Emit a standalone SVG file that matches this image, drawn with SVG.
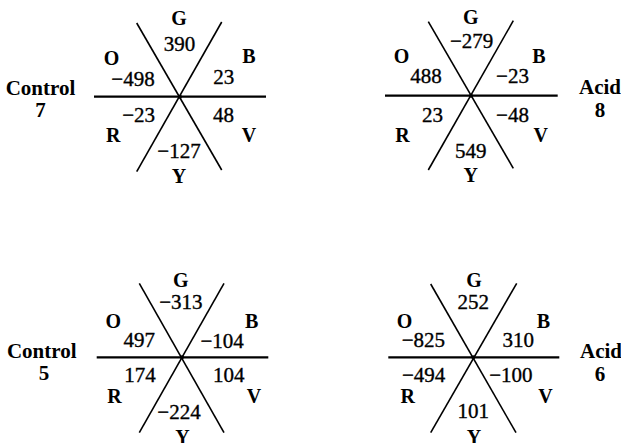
<svg xmlns="http://www.w3.org/2000/svg" width="621" height="443" viewBox="0 0 621 443">
<style>
.bg{fill:#fff}
.h{stroke:#000;stroke-width:2.2;fill:none}
.d{stroke:#000;stroke-width:1.6;fill:none}
text{font-family:"Liberation Serif","Times New Roman",serif;fill:#000;text-anchor:middle}
.n{font-size:21px;stroke:#000;stroke-width:0.35}
.l{font-size:20px;font-weight:bold}
.c{font-size:21px;font-weight:bold}
</style>
<rect class="bg" x="0" y="0" width="621" height="443"/>
<g id="control7">
<line class="h" x1="94" y1="96.7" x2="266" y2="96.7"/>
<line class="d" x1="136.7" y1="23" x2="221.7" y2="170"/>
<line class="d" x1="221.7" y1="22" x2="136.7" y2="171.7"/>
<circle cx="180" cy="96.7" r="2"/>
<text class="l" x="179" y="25">G</text>
<text class="n" x="179.5" y="50.5">390</text>
<text class="l" x="111.5" y="65">O</text>
<text class="n" x="133" y="85.5">−498</text>
<text class="l" x="249" y="63.3">B</text>
<text class="n" x="223.7" y="84">23</text>
<text class="c" x="40.5" y="94.5">Control</text>
<text class="c" x="40.5" y="117">7</text>
<text class="n" x="138.7" y="122">−23</text>
<text class="n" x="223.5" y="122">48</text>
<text class="l" x="113.3" y="141.7">R</text>
<text class="l" x="249" y="141.7">V</text>
<text class="n" x="179" y="158">−127</text>
<text class="l" x="179" y="183">Y</text>
</g>
<g id="acid8">
<line class="h" x1="385" y1="95.7" x2="557.7" y2="95.7"/>
<line class="d" x1="428.3" y1="21.7" x2="513.3" y2="168.3"/>
<line class="d" x1="513.3" y1="20.7" x2="428.3" y2="170"/>
<circle cx="471" cy="95.7" r="2"/>
<text class="l" x="470.8" y="24">G</text>
<text class="n" x="471.7" y="48.3">−279</text>
<text class="l" x="401.5" y="63.3">O</text>
<text class="n" x="426" y="83.3">488</text>
<text class="l" x="538.8" y="63.3">B</text>
<text class="n" x="512.5" y="83.3">−23</text>
<text class="c" x="600" y="94.3">Acid</text>
<text class="c" x="600" y="116.7">8</text>
<text class="n" x="432.5" y="121.7">23</text>
<text class="n" x="512.5" y="121.7">−48</text>
<text class="l" x="402.5" y="141.7">R</text>
<text class="l" x="540.8" y="141.7">V</text>
<text class="n" x="470.7" y="158.3">549</text>
<text class="l" x="470.8" y="181.7">Y</text>
</g>
<g id="control5">
<line class="h" x1="96.7" y1="357.3" x2="268.3" y2="357.3"/>
<line class="d" x1="139.3" y1="283.3" x2="224" y2="432.7"/>
<line class="d" x1="224" y1="283.3" x2="139.3" y2="432.7"/>
<circle cx="182" cy="357.3" r="2"/>
<text class="l" x="180.8" y="286.7">G</text>
<text class="n" x="180.8" y="309.3">−313</text>
<text class="l" x="113.3" y="328.3">O</text>
<text class="n" x="139.2" y="346.7">497</text>
<text class="l" x="251.7" y="328.3">B</text>
<text class="n" x="222.2" y="347.7">−104</text>
<text class="c" x="41.7" y="358.3">Control</text>
<text class="c" x="44" y="380">5</text>
<text class="n" x="140" y="381.7">174</text>
<text class="n" x="228.8" y="381.7">104</text>
<text class="l" x="114.5" y="403.3">R</text>
<text class="l" x="254" y="403.3">V</text>
<text class="n" x="179" y="419.3">−224</text>
<text class="l" x="182.5" y="443.5">Y</text>
</g>
<g id="acid6">
<line class="h" x1="388.3" y1="357.3" x2="559.3" y2="357.3"/>
<line class="d" x1="430.7" y1="284" x2="516" y2="432.7"/>
<line class="d" x1="516.7" y1="283.3" x2="430.7" y2="432.7"/>
<circle cx="473.3" cy="357.3" r="2"/>
<text class="l" x="474" y="286.7">G</text>
<text class="n" x="473.3" y="309.3">252</text>
<text class="l" x="404.5" y="328.3">O</text>
<text class="n" x="423.3" y="346.7">−825</text>
<text class="l" x="543.3" y="328.3">B</text>
<text class="n" x="518.3" y="346.7">310</text>
<text class="c" x="601" y="358.3">Acid</text>
<text class="c" x="600" y="380.7">6</text>
<text class="n" x="423.7" y="381.7">−494</text>
<text class="n" x="510.8" y="381.7">−100</text>
<text class="l" x="407.8" y="403.3">R</text>
<text class="l" x="545.5" y="403.3">V</text>
<text class="n" x="473.3" y="418.3">101</text>
<text class="l" x="474" y="443.5">Y</text>
</g>
</svg>
